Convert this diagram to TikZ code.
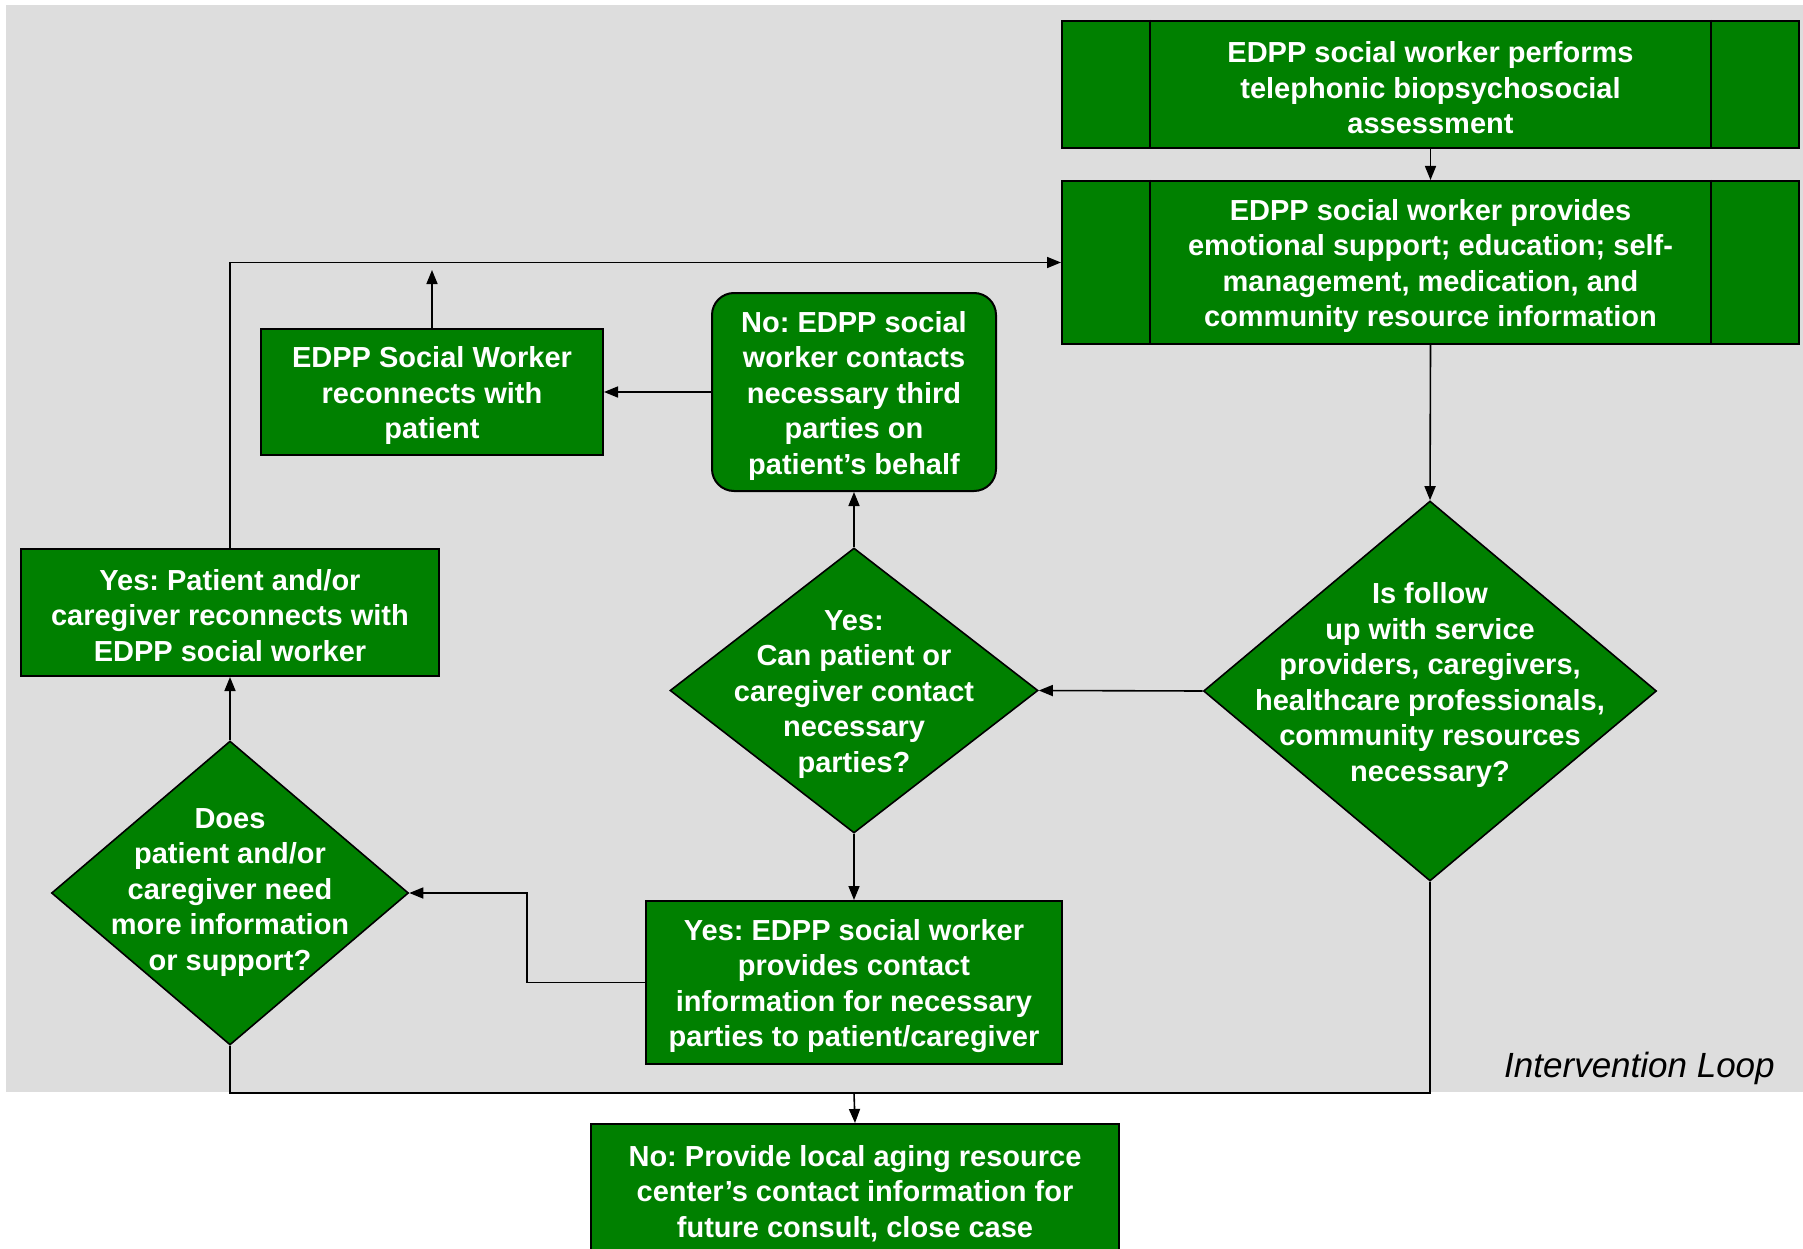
\documentclass[tikz,border=0pt]{standalone}
\usepackage{fontspec}
\setmainfont{Liberation Sans}
\frenchspacing
\usetikzlibrary{shapes.geometric,arrows.meta}
\definecolor{boxgreen}{RGB}{0,128,0}
\definecolor{loopgray}{RGB}{221,221,221}
\begin{document}
\begin{tikzpicture}[x=1pt,y=-1pt,
  box/.style={draw=black,line width=2pt,fill=boxgreen,inner sep=0pt},
  dia/.style={shape=diamond,draw=black,line width=1.6pt,fill=boxgreen,inner sep=0pt},
  dtext/.style={text=white,font=\fontsize{29}{35.5}\selectfont\bfseries,align=center,inner sep=0pt},
  conn/.style={draw=black,line width=1.6pt},
  arr/.style={conn,-{Triangle[length=14pt,width=11pt]}}]
\useasboundingbox (0,0) rectangle (1803,1249);
\fill[white] (0,0) rectangle (1803,1249);
\fill[loopgray] (6,5) rectangle (1803,1092);
% boxes
\node[box,minimum width=737pt,minimum height=127pt] (b1) at (1430.5,84.5) {};
\node[dtext] (b1t) at ([yshift=-3.5pt]b1.center) {EDPP social worker performs\\telephonic biopsychosocial\\assessment};
\node[box,minimum width=737pt,minimum height=163pt] (b2) at (1430.5,262.5) {};
\node[dtext] (b2t) at ([yshift=-3.5pt]b2.center) {EDPP social worker provides\\emotional support; education; self-\\management, medication, and\\community resource information};
\draw[line width=2pt] ([xshift=89pt]b1.north west) -- ([xshift=89pt]b1.south west);
\draw[line width=2pt] ([xshift=-89pt]b1.north east) -- ([xshift=-89pt]b1.south east);
\draw[line width=2pt] ([xshift=89pt]b2.north west) -- ([xshift=89pt]b2.south west);
\draw[line width=2pt] ([xshift=-89pt]b2.north east) -- ([xshift=-89pt]b2.south east);
\node[dia,minimum width=453pt,minimum height=380pt] (d1) at (1430,691) {};
\node[dtext] (d1t) at (1430,685) {Is follow\\up with service\\providers, caregivers,\\healthcare professionals,\\community resources\\necessary?};
\node[dia,minimum width=368pt,minimum height=285pt] (d2) at (854,690.5) {};
\node[dtext] (d2t) at (854,694.5) {Yes:\\Can patient or\\caregiver contact\\necessary\\parties?};
\node[box,rounded corners=22pt,minimum width=284pt,minimum height=198pt] (r3) at (854,392) {};
\node[dtext] (r3t) at ([yshift=-3.5pt]r3.center) {No: EDPP social\\worker contacts\\necessary third\\parties on\\patient’s behalf};
\node[box,minimum width=342pt,minimum height=126pt] (r4) at (432,392) {};
\node[dtext] (r4t) at ([yshift=-3.5pt]r4.center) {EDPP Social Worker\\reconnects with\\patient};
\node[box,minimum width=418pt,minimum height=127pt] (r5) at (230,612.5) {};
\node[dtext] (r5t) at ([yshift=-3pt]r5.center) {Yes: Patient and/or\\caregiver reconnects with\\EDPP social worker};
\node[dia,minimum width=357pt,minimum height=304pt] (d3) at (230,893) {};
\node[dtext] (d3t) at (230,892.5) {Does\\patient and/or\\caregiver need\\more information\\or support?};
\node[box,minimum width=416pt,minimum height=163pt] (r6) at (854,982.5) {};
\node[dtext] (r6t) at ([yshift=-3.5pt]r6.center) {Yes: EDPP social worker\\provides contact\\information for necessary\\parties to patient/caregiver};
\node[box,minimum width=528pt,minimum height=132pt] (r7) at (855,1190) {};
\node[dtext] (r7t) at ([yshift=-3.5pt]r7.center) {No: Provide local aging resource\\center’s contact information for\\future consult, close case};
\node[font=\fontsize{35}{42}\selectfont\itshape,anchor=base west,inner sep=0pt] (loop) at (1504,1077) {Intervention Loop};
% connectors
\draw[arr] (b1.south) -- (b2.north);
\draw[arr] (b2.south) -- (d1.north);
\draw[arr] (d1.west) -- (d2.east);
\draw[arr] (d2.north) -- (r3.south);
\draw[arr] (r3.west) -- (r4.east);
\draw[arr] (d2.south) -- (r6.north);
\coordinate (r6bend) at (527,982.5);
\draw[arr] (r6.west) -- (r6bend) |- (d3.east);
\draw[arr] (d3.north) -- (r5.south);
\draw[arr] (r5.north) |- (b2.west);
\coordinate (r4up) at (432,270);
\draw[arr] (r4.north) -- (r4up);
\coordinate (botline) at (854,1093);
\draw[conn] (d3.south) |- (botline) -| (d1.south);
\draw[arr] (botline) -- (r7.north);
\end{tikzpicture}
\end{document}
